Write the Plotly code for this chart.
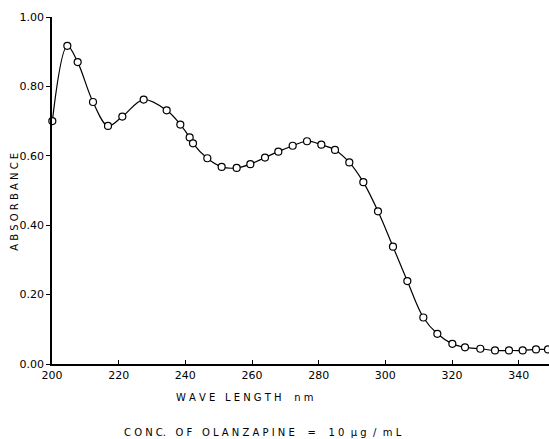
import plotly.graph_objects as go

wavelength = [200.1, 204.6, 207.7, 212.3, 216.8, 221.1, 227.5, 234.4, 238.5, 241.3,
              242.3, 246.6, 250.9, 255.4, 259.5, 263.9, 267.9, 272.2, 276.5, 280.8,
              284.9, 289.2, 293.4, 297.8, 302.3, 306.6, 311.4, 315.6, 320.1, 323.9,
              328.5, 332.9, 337.1, 341.2, 345.2, 348.8]
absorbance = [0.700, 0.917, 0.870, 0.755, 0.686, 0.713, 0.762, 0.731, 0.690, 0.653,
              0.636, 0.593, 0.568, 0.565, 0.576, 0.595, 0.612, 0.629, 0.642, 0.632,
              0.617, 0.581, 0.524, 0.440, 0.338, 0.239, 0.134, 0.087, 0.058, 0.048,
              0.044, 0.039, 0.039, 0.039, 0.042, 0.042]

x_ticks = [200, 220, 240, 260, 280, 300, 320, 340]
y_ticks = [0.0, 0.2, 0.4, 0.6, 0.8, 1.0]
y_tick_labels = ["0.00", "0.20", "0.40", "0.60", "0.80", "1.00"]

FONT = "DejaVu Sans"

fig = go.Figure()
fig.add_trace(go.Scatter(
    x=wavelength, y=absorbance, mode="lines+markers",
    line=dict(color="black", width=1.2, shape="spline", smoothing=1.0),
    marker=dict(symbol="circle", size=7, color="white",
                line=dict(color="black", width=1.2)),
    cliponaxis=False, showlegend=False,
))

fig.update_layout(
    width=549, height=439,
    margin=dict(l=52, r=0, t=17, b=74.5),
    paper_bgcolor="white", plot_bgcolor="white",
    font=dict(family=FONT, color="black", size=11),
    xaxis=dict(range=[200, 349.1], tickvals=x_ticks, ticks="inside", ticklen=4,
               tickcolor="black", showline=True, linecolor="black", linewidth=1.5,
               showgrid=False, zeroline=False,
               tickfont=dict(family=FONT, size=11, color="black")),
    yaxis=dict(range=[0, 1.0], tickvals=y_ticks, ticktext=y_tick_labels,
               ticks="outside", ticklen=4, tickcolor="black",
               showline=True, linecolor="black", linewidth=1.5,
               showgrid=False, zeroline=False,
               tickfont=dict(family=FONT, size=11, color="black")),
    annotations=[
        dict(text="W A V E   L E N G T H    n m", xref="paper", yref="paper",
             x=0.388, y=-0.0964, showarrow=False, xanchor="center", yanchor="middle",
             font=dict(family=FONT, size=10, color="black")),
        dict(text="C O N C.   O F   O L A N Z A P I N E    =    1 0  μ g  /  m L",
             xref="paper", yref="paper",
             x=0.4245, y=-0.197, showarrow=False, xanchor="center", yanchor="middle",
             font=dict(family=FONT, size=10, color="black")),
        dict(text="A B S O R B A N C E", xref="paper", yref="paper",
             x=-0.0744, y=0.4676, showarrow=False, textangle=-90,
             xanchor="center", yanchor="middle",
             font=dict(family=FONT, size=10, color="black")),
    ],
)

fig.write_html("out.html", config={"displayModeBar": False},
               post_script="document.body.style.margin='0';document.body.style.overflow='hidden';")
